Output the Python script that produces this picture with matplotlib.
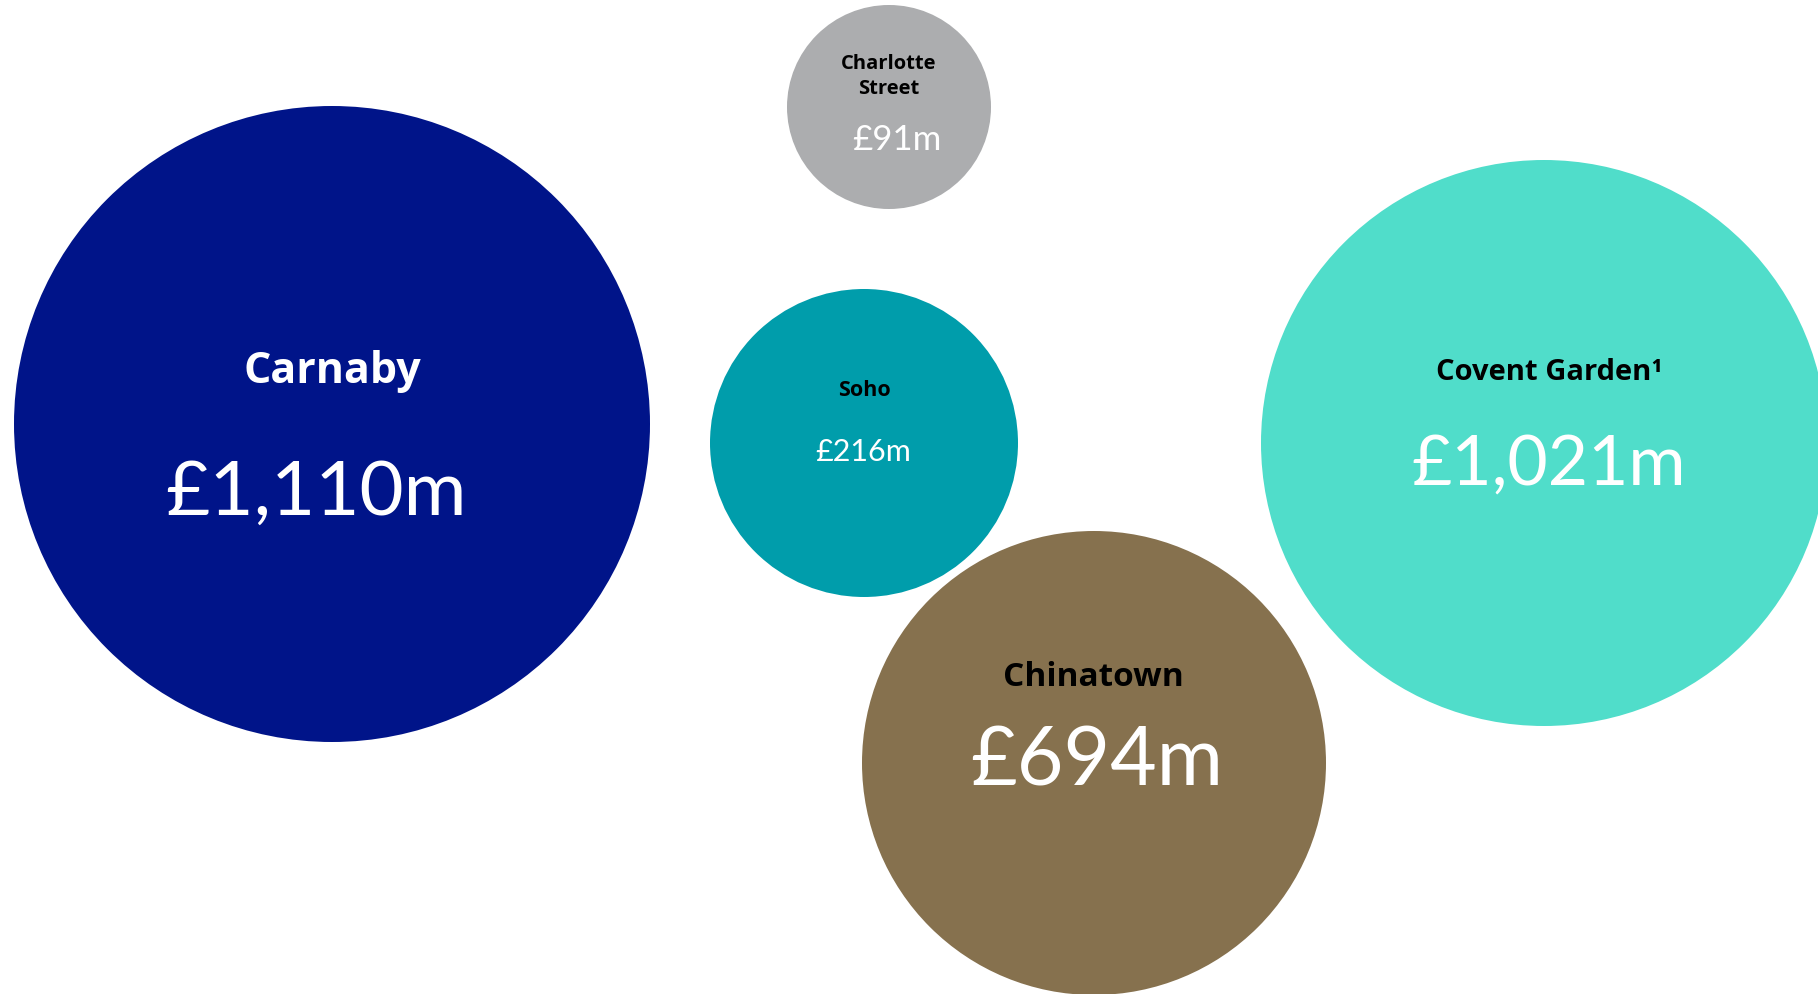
import matplotlib.pyplot as plt
from matplotlib.patches import Circle

# areas and their values (£m)
areas = ["Carnaby", "Charlotte\nStreet", "Soho", "Chinatown", "Covent Garden\u00b9"]
values = [1110, 91, 216, 694, 1021]
colors = ["#001489", "#acadaf", "#009dab", "#86714e", "#50ddca"]
label_colors = ["white", "black", "black", "black", "black"]

# bubble layout in pixels (y measured from the top)
cx = [332, 889, 864, 1094, 1544]
cy = [424, 107, 443, 763, 443]
radius = [318, 102, 154, 232, 283]

# text placement (baselines) and sizes
label_x = [332, 889, 864, 1093, 1549]
label_y = [383, 94, 396, 686, 380]
label_size = [31, 14.5, 15.5, 24, 21]
value_x = [316, 897, 863, 1097, 1549]
value_y = [515, 150, 461, 785, 485]
value_size = [55, 25, 22, 58, 50]

plt.rcParams['font.family'] = ['Lato', 'DejaVu Sans']

fig = plt.figure(figsize=(18.18, 9.94), dpi=100)
ax = fig.add_axes([0, 0, 1, 1])
ax.set_xlim(0, 1818)
ax.set_ylim(994, 0)
ax.axis("off")

for i in range(len(areas)):
    ax.add_patch(Circle((cx[i], cy[i]), radius[i], color=colors[i], lw=0))
    ax.text(label_x[i], label_y[i], areas[i], ha="center", va="baseline",
            fontsize=label_size[i], fontweight="bold", color=label_colors[i],
            family=["Open Sans", "DejaVu Sans"], linespacing=1.35)
    ax.text(value_x[i], value_y[i], "£{:,}m".format(values[i]), ha="center",
            va="baseline", fontsize=value_size[i], color="white")

fig.savefig("out.png", dpi=100)
